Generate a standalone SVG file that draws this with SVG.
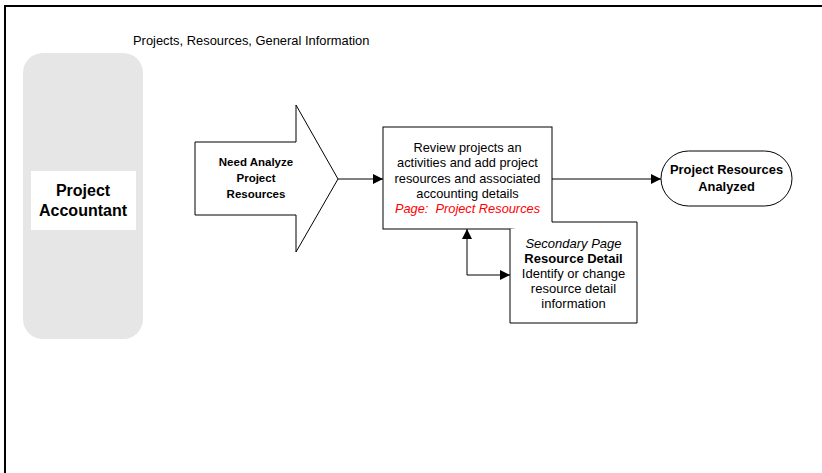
<svg xmlns="http://www.w3.org/2000/svg" width="822" height="473" viewBox="0 0 822 473">
<defs>
<style>
text{font-family:"Liberation Sans",Arial,sans-serif;fill:#000}
.b{font-weight:bold}
.n{fill:#fff;stroke:#000;stroke-width:1}
.c{fill:none;stroke:#000;stroke-width:1}
</style>
<marker id="ah" viewBox="0 0 10 10" refX="10" refY="5" markerWidth="10" markerHeight="10" markerUnits="userSpaceOnUse" orient="auto-start-reverse"><path d="M0,0 L10,5 L0,10 z" fill="#000"/></marker>
</defs>
<rect width="822" height="473" fill="#fff"/>
<path d="M5,473 V6 H822" fill="none" stroke="#000" stroke-width="2"/>
<text x="133" y="45" font-size="12.9">Projects, Resources, General Information</text>
<g id="lane">
<rect x="23" y="53" width="120" height="286" rx="20" fill="#e6e6e6"/>
<rect x="31" y="171" width="105" height="59" fill="#fff"/>
<text class="b" x="83" y="196" font-size="16" text-anchor="middle">Project</text>
<text class="b" x="83" y="216" font-size="16" text-anchor="middle">Accountant</text>
</g>
<g id="start">
<path class="n" d="M195,142 H296 V105 L338,179 L296,252 V215 H195 Z"/>
<text class="b" font-size="11.5" text-anchor="middle"><tspan x="256" y="166">Need Analyze</tspan><tspan x="256" y="182">Project</tspan><tspan x="256" y="198">Resources</tspan></text>
</g>
<g id="process">
<rect class="n" x="383" y="127" width="169" height="102"/>
<text font-size="12.8" text-anchor="middle"><tspan x="467.5" y="151.5">Review projects an</tspan><tspan x="467.5" y="167">activities and add project</tspan><tspan x="467.5" y="182.5">resources and associated</tspan><tspan x="467.5" y="197.5">accounting details</tspan><tspan x="467.5" y="213" fill="#f00" font-style="italic">Page:&#160; Project Resources</tspan></text>
</g>
<g id="secondary">
<path class="n" d="M552,222 H637 V323 H510 V229"/>
<text font-size="13" text-anchor="middle"><tspan x="573.5" y="247.5" font-style="italic">Secondary Page</tspan><tspan x="573.5" y="262.5" font-weight="bold">Resource Detail</tspan><tspan x="573.5" y="277.5">Identify or change</tspan><tspan x="573.5" y="292.5">resource detail</tspan><tspan x="573.5" y="307.5">information</tspan></text>
</g>
<g id="end">
<rect class="n" x="661" y="151" width="131" height="55" rx="27.5"/>
<text class="b" font-size="12.9" text-anchor="middle"><tspan x="726.5" y="174">Project Resources</tspan><tspan x="726.5" y="190.5">Analyzed</tspan></text>
</g>
<g id="connectors">
<path class="c" d="M338,179 H383" marker-end="url(#ah)"/>
<path class="c" d="M552,179 H661" marker-end="url(#ah)"/>
<path class="c" d="M467,229 V275 H510" marker-start="url(#ah)" marker-end="url(#ah)"/>
</g>
</svg>
